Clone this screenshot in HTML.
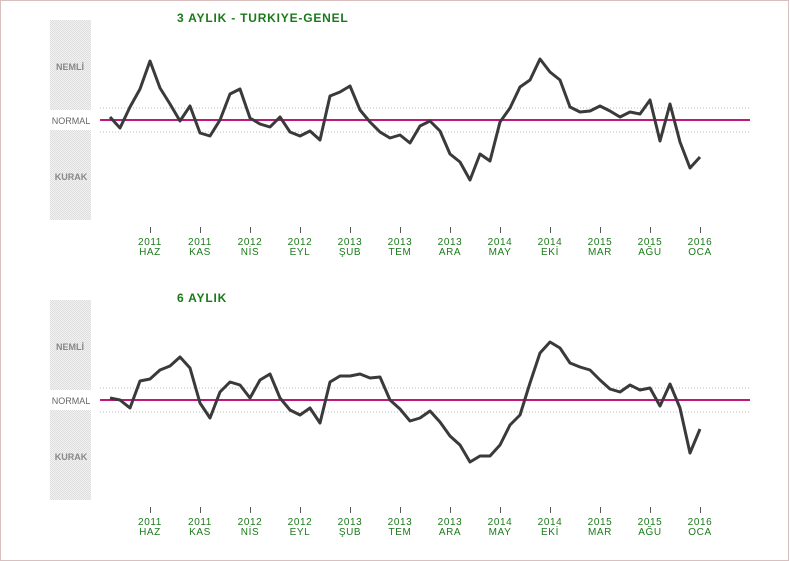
<!DOCTYPE html>
<html><head><meta charset="utf-8"><style>
html,body{margin:0;padding:0;background:#fff;}
svg{display:block;}
text{font-family:"Liberation Sans","DejaVu Sans",sans-serif;}
</style></head><body>
<svg width="790" height="561" viewBox="0 0 790 561" xmlns="http://www.w3.org/2000/svg">
<defs>
<pattern id="dots" width="2" height="2" patternUnits="userSpaceOnUse">
<rect width="2" height="2" fill="#f2f2f2"/><rect width="1" height="1" fill="#dedede"/><rect x="1" y="1" width="1" height="1" fill="#dedede"/>
</pattern>
<g id="frame">
<rect x="50" y="20" width="41" height="90" fill="url(#dots)"/>
<rect x="50" y="130" width="41" height="90" fill="url(#dots)"/>
<text x="70" y="70" font-size="9" fill="#888" text-anchor="middle" font-weight="bold">NEMLİ</text>
<text x="71" y="124" font-size="9" fill="#666" text-anchor="middle">NORMAL</text>
<text x="71" y="180" font-size="9" fill="#888" text-anchor="middle" font-weight="bold">KURAK</text>
<line x1="100" y1="108" x2="750" y2="108" stroke="#bbb" stroke-dasharray="1,2"/>
<line x1="100" y1="132" x2="750" y2="132" stroke="#bbb" stroke-dasharray="1,2"/>
<line x1="100" y1="120" x2="750" y2="120" stroke="#c0187a" stroke-width="2"/>
<g stroke="#555" stroke-width="1">
<line x1="150.5" y1="227" x2="150.5" y2="233"/><line x1="200.5" y1="227" x2="200.5" y2="233"/><line x1="250.5" y1="227" x2="250.5" y2="233"/><line x1="300.5" y1="227" x2="300.5" y2="233"/><line x1="350.5" y1="227" x2="350.5" y2="233"/><line x1="400.5" y1="227" x2="400.5" y2="233"/><line x1="450.5" y1="227" x2="450.5" y2="233"/><line x1="500.5" y1="227" x2="500.5" y2="233"/><line x1="550.5" y1="227" x2="550.5" y2="233"/><line x1="600.5" y1="227" x2="600.5" y2="233"/><line x1="650.5" y1="227" x2="650.5" y2="233"/><line x1="700.5" y1="227" x2="700.5" y2="233"/>
</g>
<g font-size="10" fill="#1a7a1a" text-anchor="middle" letter-spacing="0.6">
<text x="150" y="245">2011</text><text x="150" y="255">HAZ</text>
<text x="200" y="245">2011</text><text x="200" y="255">KAS</text>
<text x="250" y="245">2012</text><text x="250" y="255">NİS</text>
<text x="300" y="245">2012</text><text x="300" y="255">EYL</text>
<text x="350" y="245">2013</text><text x="350" y="255">ŞUB</text>
<text x="400" y="245">2013</text><text x="400" y="255">TEM</text>
<text x="450" y="245">2013</text><text x="450" y="255">ARA</text>
<text x="500" y="245">2014</text><text x="500" y="255">MAY</text>
<text x="550" y="245">2014</text><text x="550" y="255">EKİ</text>
<text x="600" y="245">2015</text><text x="600" y="255">MAR</text>
<text x="650" y="245">2015</text><text x="650" y="255">AĞU</text>
<text x="700" y="245">2016</text><text x="700" y="255">OCA</text>
</g>
</g>
</defs>
<rect x="0.5" y="0.5" width="788" height="560" fill="none" stroke="#b08080" stroke-dasharray="1,1"/>
<use href="#frame"/>
<use href="#frame" transform="translate(0,280)"/>
<text x="177" y="22" font-size="12" font-weight="bold" fill="#1a7a1a" letter-spacing="0.8">3 AYLIK - TURKIYE-GENEL</text>
<text x="177" y="302" font-size="12" font-weight="bold" fill="#1a7a1a" letter-spacing="0.8">6 AYLIK</text>
<polyline fill="none" stroke="#3a3a3a" stroke-width="3" stroke-linejoin="round" points="110,117 120,128 130,107 140,89 150,61 160,88 170,104 180,121 190,106 200,133 210,136 220,120 230,94 240,89 250,118 260,124 270,127 280,117 290,132 300,136 310,131 320,140 330,96 340,92 350,86 360,110 370,122 380,132 390,138 400,135 410,143 420,126 430,121 440,131 450,154 460,162 470,180 480,154 490,161 500,122 510,108 520,87 530,80 540,59 550,72 560,80 570,107 580,112 590,111 600,106 610,111 620,117 630,112 640,114 650,100 660,141 670,104 680,142 690,168 700,157"/>
<polyline fill="none" stroke="#3a3a3a" stroke-width="3" stroke-linejoin="round" points="110,398 120,400 130,408 140,381 150,379 160,370 170,366 180,357 190,368 200,403 210,418 220,392 230,382 240,385 250,398 260,380 270,374 280,398 290,410 300,415 310,408 320,423 330,382 340,376 350,376 360,374 370,378 380,377 390,400 400,409 410,421 420,418 430,411 440,422 450,436 460,445 470,462 480,456 490,456 500,445 510,425 520,415 530,383 540,353 550,342 560,348 570,363 580,367 590,370 600,380 610,389 620,392 630,385 640,390 650,388 660,406 670,384 680,408 690,453 700,429"/>
</svg>
</body></html>
